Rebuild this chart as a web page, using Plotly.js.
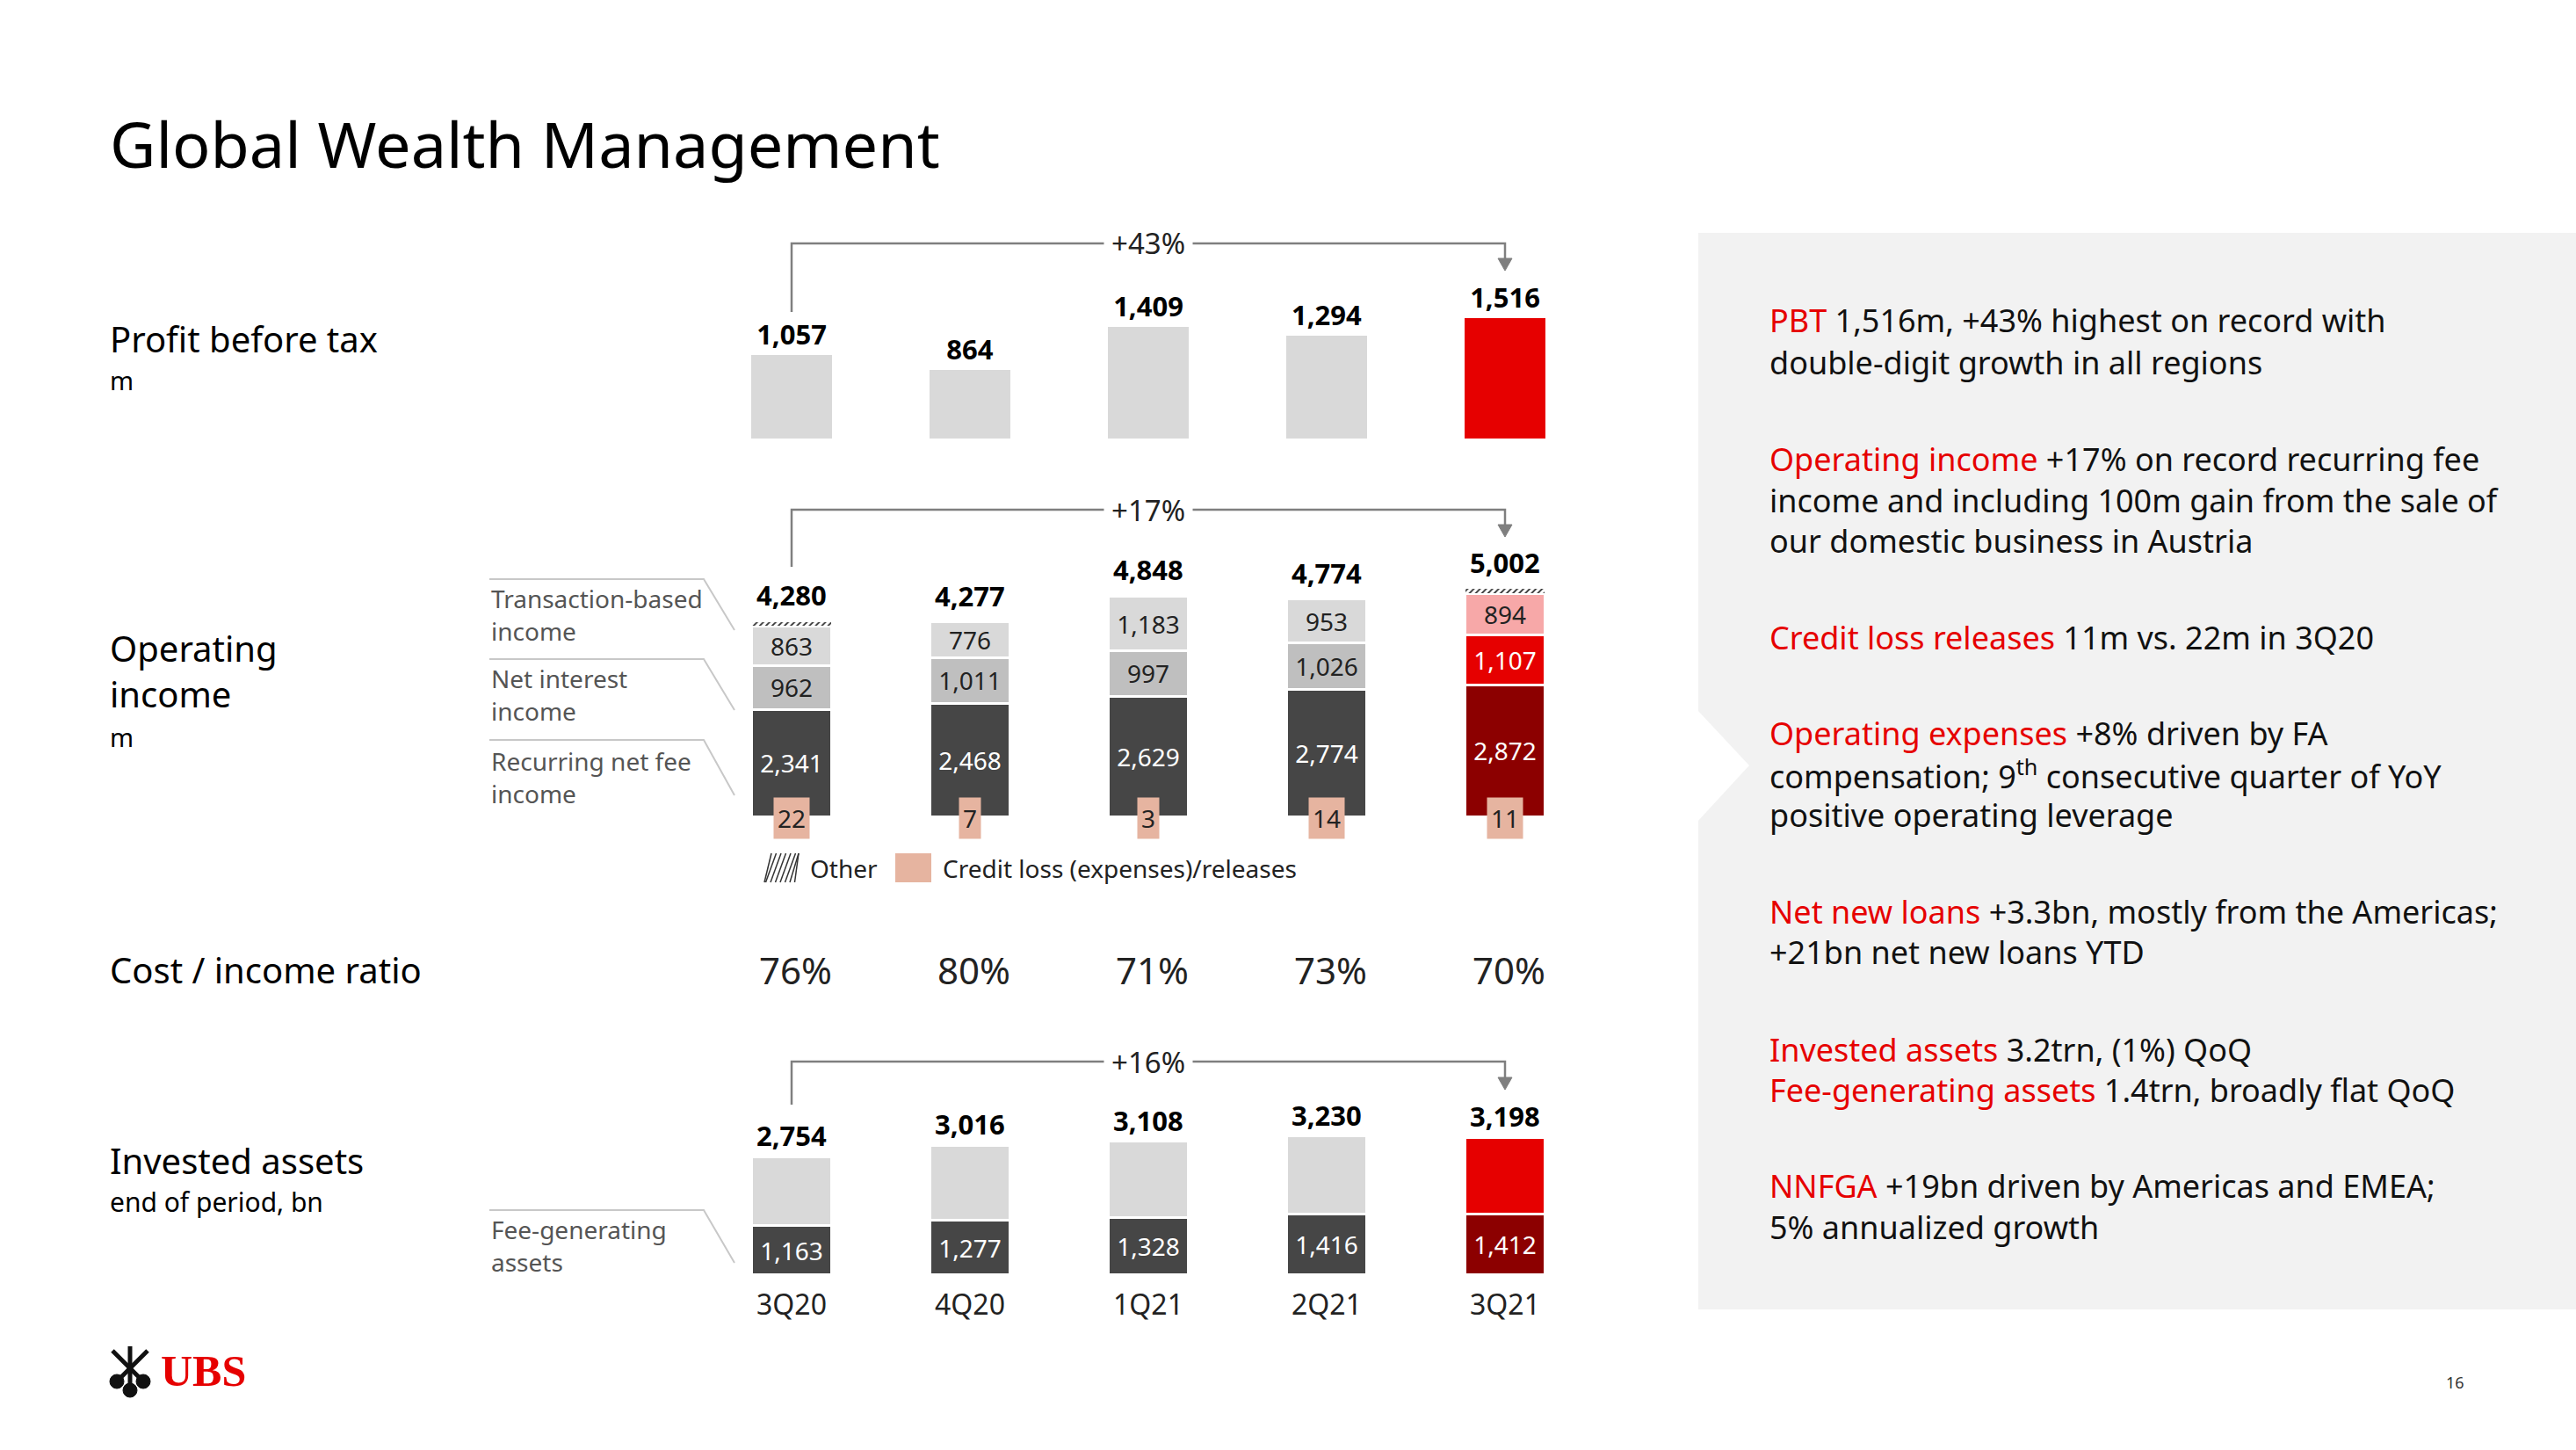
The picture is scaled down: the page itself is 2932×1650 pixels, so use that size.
<!DOCTYPE html>
<html>
<head>
<meta charset="utf-8">
<script src="https://cdn.plot.ly/plotly-3.0.1.min.js"></script>
<style>html,body{margin:0;padding:0;background:#fff;}#chart{width:2932px;height:1650px;}</style>
</head>
<body>
<div id="chart"></div>
<script>
// ---------- data ----------
const quarters = ['3Q20', '4Q20', '1Q21', '2Q21', '3Q21'];
const profitBeforeTax = [1057, 864, 1409, 1294, 1516];
const operatingIncomeTotal = [4280, 4277, 4848, 4774, 5002];
const recurringNetFeeIncome = [2341, 2468, 2629, 2774, 2872];
const netInterestIncome = [962, 1011, 997, 1026, 1107];
const transactionBasedIncome = [863, 776, 1183, 953, 894];
const otherIncome = [92, 15, 36, 7, 118];
const creditLoss = [22, 7, 3, 14, 11];
const costIncomeRatio = [76, 80, 71, 73, 70];
const investedAssets = [2754, 3016, 3108, 3230, 3198];
const feeGeneratingAssets = [1163, 1277, 1328, 1416, 1412];
const growthLabels = ['+43%', '+17%', '+16%'];

const rightPanelLines = [
  ['PBT', ' 1,516m, +43% highest on record with'],
  ['', 'double-digit growth in all regions'],
  ['Operating income', ' +17% on record recurring fee'],
  ['', 'income and including 100m gain from the sale of'],
  ['', 'our domestic business in Austria'],
  ['Credit loss releases', ' 11m vs. 22m in 3Q20'],
  ['Operating expenses', ' +8% driven by FA'],
  ['', 'compensation; 9<sup>th</sup> consecutive quarter of YoY'],
  ['', 'positive operating leverage'],
  ['Net new loans', ' +3.3bn, mostly from the Americas;'],
  ['', '+21bn net new loans YTD'],
  ['Invested assets', ' 3.2trn, (1%) QoQ'],
  ['Fee-generating assets', ' 1.4trn, broadly flat QoQ'],
  ['NNFGA', ' +19bn driven by Americas and EMEA;'],
  ['', '5% annualized growth']
];
const rightPanelLineY = [365, 412, 522, 569, 616, 726, 834, 881, 928, 1037, 1083, 1194, 1240, 1349, 1396];

// ---------- layout helpers ----------
const W = 2932, H = 1650;
const FONT = 'Noto Sans, Open Sans, sans-serif';
const px = v => v / W;
const py = v => 1 - v / H;
const X0 = 799.5, STEP = 203;
const catPx = i => X0 + STEP * (i + 0.5);

const last = quarters.length - 1;
const GRAY = '#D9D9D9', MID = '#BFBFBF', DARK = '#464646';
const RED = '#E60000', DARKRED = '#8C0000', PINK = '#F7A8A8';
const hl = (arr, normal, special) => arr.map((_, i) => i === last ? special : normal);
const fmt = v => v.toLocaleString('en-US');

const traces = [];
// Profit before tax
traces.push({
  type: 'bar', x: quarters, y: profitBeforeTax, xaxis: 'x', yaxis: 'y',
  marker: {color: hl(profitBeforeTax, GRAY, RED)},
  text: profitBeforeTax.map(v => '<b>' + fmt(v) + '</b>'),
  textposition: 'outside', constraintext: 'none', cliponaxis: false,
  textfont: {family: FONT, size: 31, color: '#000'}, hoverinfo: 'skip'
});
// Operating income stack
const segLine = {color: '#ffffff', width: 3};
traces.push({
  type: 'bar', x: quarters, y: recurringNetFeeIncome, yaxis: 'y2',
  marker: {color: hl(quarters, DARK, DARKRED), line: segLine},
  text: recurringNetFeeIncome.map(fmt), textposition: 'inside', insidetextanchor: 'middle',
  constraintext: 'none', textangle: 0,
  textfont: {family: FONT, size: 28, color: '#ffffff'}, hoverinfo: 'skip'
});
traces.push({
  type: 'bar', x: quarters, y: netInterestIncome, yaxis: 'y2',
  marker: {color: hl(quarters, MID, RED), line: segLine},
  text: netInterestIncome.map(fmt), textposition: 'inside', insidetextanchor: 'middle',
  constraintext: 'none', textangle: 0,
  textfont: {family: FONT, size: 28, color: hl(quarters, '#222', '#ffffff')}, hoverinfo: 'skip'
});
traces.push({
  type: 'bar', x: quarters, y: transactionBasedIncome, yaxis: 'y2',
  marker: {color: hl(quarters, GRAY, PINK), line: segLine},
  text: transactionBasedIncome.map(fmt), textposition: 'inside', insidetextanchor: 'middle',
  constraintext: 'none', textangle: 0,
  textfont: {family: FONT, size: 28, color: '#222'}, hoverinfo: 'skip'
});
traces.push({
  type: 'bar', x: quarters, y: otherIncome, yaxis: 'y2',
  marker: {color: '#ffffff', line: {color: '#ffffff', width: 1},
           pattern: {shape: '/', fgcolor: '#333333', bgcolor: '#ffffff', size: 5, solidity: 0.35}},
  hoverinfo: 'skip'
});
// Invested assets
traces.push({
  type: 'bar', x: quarters, y: feeGeneratingAssets, yaxis: 'y3',
  marker: {color: hl(quarters, DARK, DARKRED), line: segLine},
  text: feeGeneratingAssets.map(fmt), textposition: 'inside', insidetextanchor: 'middle',
  constraintext: 'none', textangle: 0,
  textfont: {family: FONT, size: 28, color: '#ffffff'}, hoverinfo: 'skip'
});
traces.push({
  type: 'bar', x: quarters, y: investedAssets.map((v, i) => v - feeGeneratingAssets[i]), yaxis: 'y3',
  marker: {color: hl(quarters, GRAY, RED), line: segLine}, hoverinfo: 'skip'
});

// ---------- shapes & annotations ----------
const shapes = [];
const annotations = [];
const ann = (text, xPix, yPix, size, opts) => annotations.push(Object.assign({
  text, x: px(xPix), y: py(yPix), xref: 'paper', yref: 'paper', showarrow: false,
  xanchor: 'left', yanchor: 'middle', align: 'left',
  font: {family: FONT, size, color: '#000'}
}, opts || {}));

// total labels above stacked bars
operatingIncomeTotal.forEach((v, i) => annotations.push({
  text: '<b>' + fmt(v) + '</b>', x: quarters[i], y: v, xref: 'x', yref: 'y2', showarrow: false,
  xanchor: 'center', yanchor: 'bottom', yshift: 6,
  font: {family: FONT, size: 31, color: '#000'}
}));
investedAssets.forEach((v, i) => annotations.push({
  text: '<b>' + fmt(v) + '</b>', x: quarters[i], y: v, xref: 'x', yref: 'y3', showarrow: false,
  xanchor: 'center', yanchor: 'bottom', yshift: 1,
  font: {family: FONT, size: 31, color: '#000'}
}));

// right grey panel with notch
shapes.push({type: 'rect', xref: 'paper', yref: 'paper', x0: px(1933), x1: 1, y0: py(1490), y1: py(265),
  fillcolor: '#F2F2F2', line: {width: 0}, layer: 'below'});
shapes.push({type: 'path', xref: 'paper', yref: 'paper',
  path: `M ${px(1932)} ${py(808)} L ${px(1991)} ${py(871)} L ${px(1932)} ${py(935)} Z`,
  fillcolor: '#ffffff', line: {width: 0}, layer: 'below'});

// growth brackets
function bracket(startPx, topPx, tipPx, label) {
  const lc = '#7F7F7F';
  const xa = catPx(0), xb = catPx(last);
  shapes.push({type: 'path', xref: 'paper', yref: 'paper',
    path: `M ${px(xa)} ${py(startPx)} L ${px(xa)} ${py(topPx)} L ${px(xb)} ${py(topPx)} L ${px(xb)} ${py(tipPx - 12)}`,
    line: {color: lc, width: 2.5}});
  shapes.push({type: 'path', xref: 'paper', yref: 'paper',
    path: `M ${px(xb - 8)} ${py(tipPx - 14)} L ${px(xb + 8)} ${py(tipPx - 14)} L ${px(xb)} ${py(tipPx)} Z`,
    fillcolor: lc, line: {color: lc, width: 1}});
  ann(label, catPx(2), topPx, 33, {xanchor: 'center', bgcolor: '#ffffff', borderpad: 8,
    font: {family: FONT, size: 33, color: '#222'}});
}
bracket(355, 277, 308, growthLabels[0]);
bracket(645, 580, 611, growthLabels[1]);
bracket(1257, 1208, 1240, growthLabels[2]);

// title and row labels
ann('Global Wealth Management', 123, 163, 72);
ann('Profit before tax', 123, 385, 40);
ann('m', 123, 432, 29);
ann('Operating', 123, 737, 40);
ann('income', 123, 789, 40);
ann('m', 123, 838, 29);
ann('Cost / income ratio', 123, 1103, 40);
ann('Invested assets', 123, 1320, 40);
ann('end of period, bn', 123, 1367, 30);

// segment labels with leader lines
const segLabels = [
  ['Transaction-based', 'income', 681, 659, 717],
  ['Net interest', 'income', 772, 750, 808],
  ['Recurring net fee', 'income', 866, 842, 905],
  ['Fee-generating', 'assets', 1399, 1377, 1437]
];
segLabels.forEach(([a, b, yc, yl, ye]) => {
  ann(a, 557, yc, 28, {font: {family: FONT, size: 28, color: '#555'}});
  ann(b, 557, yc + 37, 28, {font: {family: FONT, size: 28, color: '#555'}});
  shapes.push({type: 'path', xref: 'paper', yref: 'paper',
    path: `M ${px(557)} ${py(yl)} L ${px(801)} ${py(yl)} L ${px(836)} ${py(ye)}`,
    line: {color: '#C8C8C8', width: 2}});
});

// credit loss boxes
creditLoss.forEach((v, i) => annotations.push({
  text: String(v), x: quarters[i], y: 0, xref: 'x', yref: 'y2', showarrow: false,
  xanchor: 'center', yanchor: 'middle', bgcolor: '#E6B4A0', borderpad: 4, yshift: -2,
  font: {family: FONT, size: 28, color: '#222'}
}));

// legend (Other / Credit loss)
for (let k = 0; k < 8; k++) {
  const x0 = 866 + k * 5.5;
  shapes.push({type: 'line', xref: 'paper', yref: 'paper',
    x0: px(Math.max(870, x0)), y0: py(1004),
    x1: px(Math.min(909, x0 + 12)), y1: py(971), line: {color: '#333', width: 1.5}});
}
ann('Other', 920, 988, 28, {font: {family: FONT, size: 28, color: '#222'}});
shapes.push({type: 'rect', xref: 'paper', yref: 'paper', x0: px(1019), x1: px(1060), y0: py(1004), y1: py(971),
  fillcolor: '#E6B4A0', line: {width: 0}});
ann('Credit loss (expenses)/releases', 1071, 988, 28, {font: {family: FONT, size: 28, color: '#222'}});

// cost / income ratio
costIncomeRatio.forEach((v, i) => annotations.push({
  text: v + '%', x: quarters[i], y: py(1103), xref: 'x', yref: 'paper', showarrow: false,
  xanchor: 'center', yanchor: 'middle', xshift: 4,
  font: {family: FONT, size: 42, color: '#222'}
}));

// right panel text
rightPanelLines.forEach(([red, rest], i) => {
  const t = (red ? '<span style="color:#E60000">' + red + '</span>' : '') + rest;
  ann(t, 2012, rightPanelLineY[i], 36, {font: {family: FONT, size: 36, color: '#111'}});
});

// page number
ann('16', 2794, 1573, 18, {xanchor: 'center', font: {family: FONT, size: 18, color: '#333'}});

// UBS logo
ann('<b>UBS</b>', 181, 1560, 50, {font: {family: 'Liberation Serif, DejaVu Serif, serif', size: 50, color: '#E60000'}});
// keys emblem (approximation)
[[133, 1572], [148, 1582], [163, 1572]].forEach(([cx, cy]) => shapes.push({
  type: 'circle', xref: 'paper', yref: 'paper', x0: px(cx - 8), x1: px(cx + 8), y0: py(cy + 8), y1: py(cy - 8),
  fillcolor: '#111', line: {color: '#111', width: 1}}));
[[128, 1537], [148, 1532], [168, 1537]].forEach(([ex, ey], k) => {
  const sx = [133, 148, 163][k], sy = [1572, 1582, 1572][k];
  shapes.push({type: 'line', xref: 'paper', yref: 'paper', x0: px(sx), y0: py(sy), x1: px(296 - ex), y1: py(ey),
    line: {color: '#111', width: 5}});
});

const hiddenY = {showgrid: false, zeroline: false, showticklabels: false, showline: false, ticks: '', fixedrange: true};
const layout = {
  width: W, height: H, margin: {l: 0, r: 0, t: 0, b: 0},
  paper_bgcolor: '#ffffff', plot_bgcolor: 'rgba(0,0,0,0)',
  showlegend: false, barmode: 'stack', bargap: 0.547,
  font: {family: FONT},
  xaxis: {domain: [px(X0), px(X0 + 5 * STEP)], range: [-0.5, 4.5], anchor: 'y3', type: 'category',
    showgrid: false, zeroline: false, showline: false, ticks: '', ticklabelstandoff: 12,
    tickfont: {family: FONT, size: 32, color: '#222'}},
  yaxis: Object.assign({domain: [py(499), py(345.5)], range: [0, 1700]}, hiddenY),
  yaxis2: Object.assign({domain: [py(929), py(643)], range: [0, 5500]}, hiddenY),
  yaxis3: Object.assign({domain: [py(1451), py(1269.7)], range: [0, 3700]}, hiddenY),
  shapes, annotations
};
Plotly.newPlot('chart', traces, layout, {staticPlot: true, displayModeBar: false});
</script>
</body>
</html>
